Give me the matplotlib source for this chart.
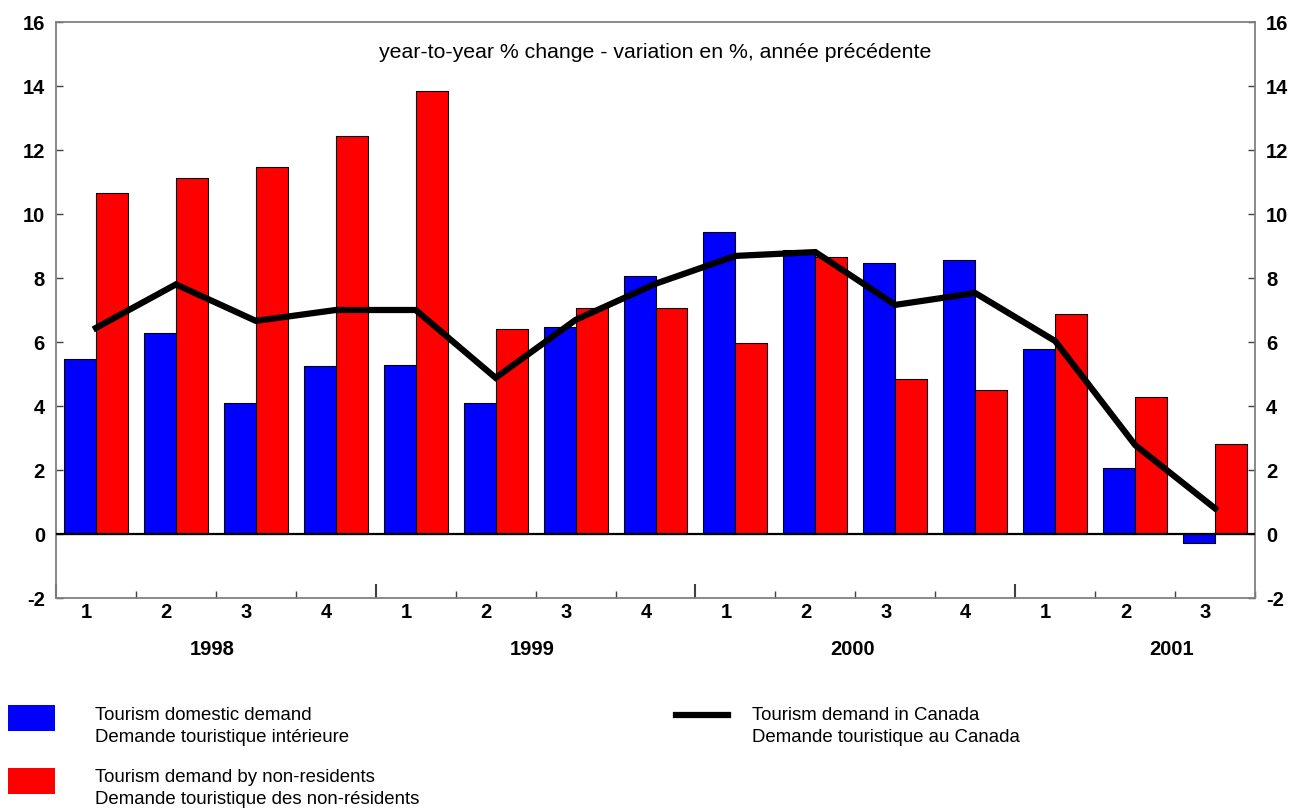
import numpy as np
import matplotlib.pyplot as plt
from matplotlib.patches import Rectangle
from matplotlib.lines import Line2D

plt.rcParams['font.family'] = ['Liberation Sans', 'DejaVu Sans']

# données : variation en % d'une année à l'autre
quarters = ['1', '2', '3', '4', '1', '2', '3', '4', '1', '2', '3', '4', '1', '2', '3']
years = ['1998', '1999', '2000', '2001']
domestic = [5.47, 6.28, 4.09, 5.25, 5.28, 4.09, 6.47, 8.06, 9.44, 8.88, 8.47, 8.56, 5.78, 2.06, -0.28]
nonres = [10.66, 11.13, 11.47, 12.44, 13.84, 6.41, 7.06, 7.06, 5.97, 8.66, 4.84, 4.50, 6.88, 4.28, 2.81]
canada = [6.44, 7.80, 6.66, 7.00, 7.00, 4.88, 6.69, 7.82, 8.69, 8.81, 7.16, 7.53, 6.03, 2.78, 0.80]

fig = plt.figure(figsize=(12.93, 8.09), dpi=100)
ax = fig.add_axes([56/1293, 1-598/809, (1255-56)/1293, (598-22)/809])

x = np.arange(len(quarters))
w = 0.4
ax.bar(x-w/2, domestic, w, color='#0000ff', edgecolor='black', linewidth=0.8, zorder=2)
ax.bar(x+w/2, nonres, w, color='#ff0000', edgecolor='black', linewidth=0.8, zorder=2)
ax.plot(x, canada, color='black', linewidth=4.5, zorder=4, solid_joinstyle='miter')
ax.axhline(0, color='black', linewidth=1.6, zorder=3)

ax.set_xlim(-0.5, len(quarters)-0.5)
ax.set_ylim(-2, 16)

# axes gris
for s in ax.spines.values():
    s.set_color('#808080')
    s.set_linewidth(1.3)

tfs = 14.5
yt = np.arange(-2, 17, 2)
ax.set_yticks(yt)
ax.set_yticklabels([str(v) for v in yt], fontsize=tfs, fontweight='bold')
ax.tick_params(axis='y', direction='in', length=5, width=1, color='#404040',
               left=True, right=True, labelleft=True, labelright=True, pad=8)

# graduations de l'axe des x
ax.set_xticks(np.arange(-0.5, len(quarters), 1), minor=True)
ax.set_xticks([-0.5, 3.5, 7.5, 11.5])
ax.set_xticklabels([])
ax.tick_params(axis='x', which='minor', direction='in', length=5, width=1, color='#404040')
ax.tick_params(axis='x', which='major', direction='in', length=10, width=1.5, color='#404040')

for i, q in enumerate(quarters):
    ax.text(i-0.12, -2.45, q, ha='center', va='center', fontsize=tfs, fontweight='bold')
for k, yr in enumerate(years):
    ax.text(1.46+4*k, -3.6, yr, ha='center', va='center', fontsize=tfs, fontweight='bold')

ax.text(0.5, 0.947, 'year-to-year % change - variation en %, année précédente',
        transform=ax.transAxes, ha='center', va='center', fontsize=15.3)

# légende
def fx(px):
    return px/1293
def fy(py):
    return 1-py/809

fig.patches.append(Rectangle((fx(8), fy(731)), fx(47), 26/809, transform=fig.transFigure,
                             facecolor='#0000ff', edgecolor='none'))
fig.patches.append(Rectangle((fx(8), fy(794)), fx(47), 26/809, transform=fig.transFigure,
                             facecolor='#ff0000', edgecolor='none'))
fig.lines.append(Line2D([fx(676), fx(728)], [fy(715), fy(715)], transform=fig.transFigure,
                        color='black', linewidth=4.5))
fs = 13.4
fig.text(fx(95), fy(715), 'Tourism domestic demand', fontsize=fs, va='center')
fig.text(fx(95), fy(737), 'Demande touristique intérieure', fontsize=fs, va='center')
fig.text(fx(95), fy(778), 'Tourism demand by non-residents', fontsize=fs, va='center')
fig.text(fx(95), fy(800), 'Demande touristique des non-résidents', fontsize=fs, va='center')
fig.text(fx(752), fy(715), 'Tourism demand in Canada', fontsize=fs, va='center')
fig.text(fx(752), fy(737), 'Demande touristique au Canada', fontsize=fs, va='center')

fig.savefig('out.png', dpi=100)
